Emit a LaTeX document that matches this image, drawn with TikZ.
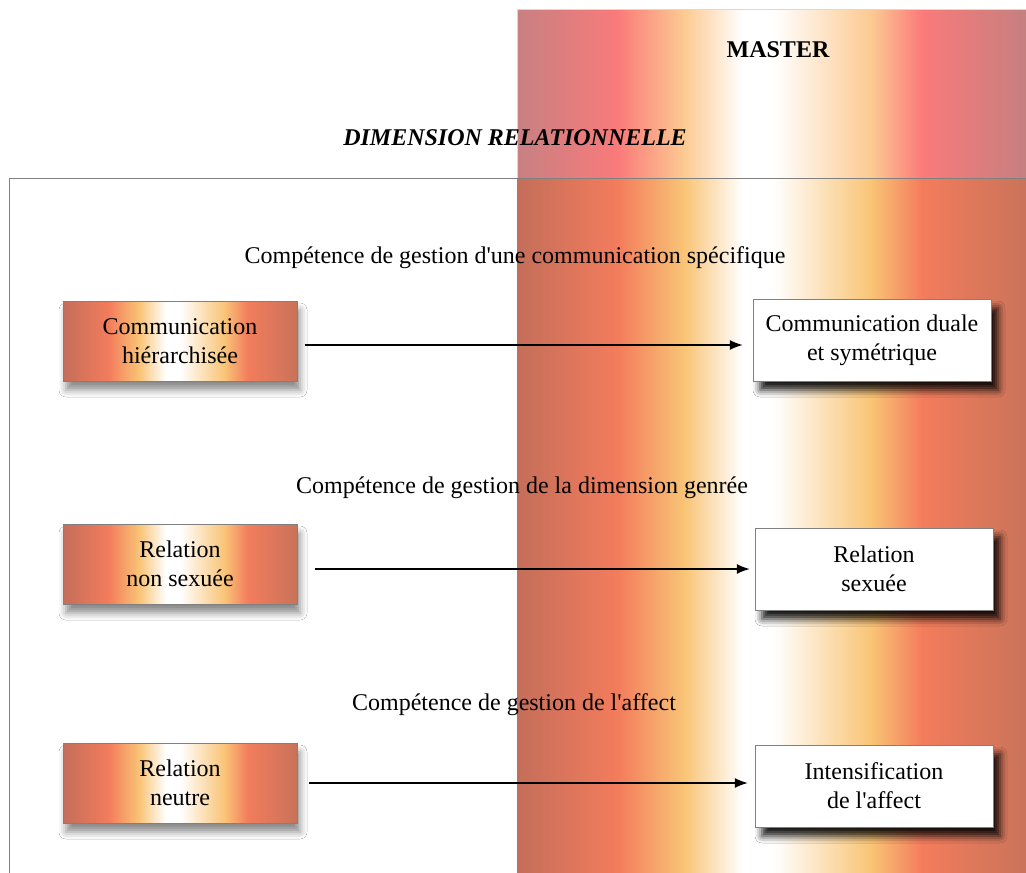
\documentclass[tikz,border=0pt]{standalone}
\usepackage{fontspec}
\setmainfont{Liberation Serif}
\usetikzlibrary{arrows.meta,shadows.blur}
\tikzset{>={Latex[length=13pt,width=10pt]}}

\definecolor{emberL}{RGB}{196,110,90}
\definecolor{emberR}{RGB}{200,115,90}
\definecolor{flame}{RGB}{243,124,92}
\definecolor{gold}{RGB}{249,196,118}
\definecolor{roseL}{RGB}{200,128,130}
\definecolor{roseR}{RGB}{196,128,128}
\definecolor{pink}{RGB}{250,122,122}
\definecolor{peach}{RGB}{252,202,146}

% band colours, mapped on the inner 50bp
\pgfdeclarehorizontalshading{fireband}{100bp}{color(0bp)=(emberL); color(25bp)=(emberL);
  color(34.8bp)=(flame); color(41.3bp)=(gold); color(47bp)=(white); color(50bp)=(white);
  color(59.5bp)=(gold); color(64.5bp)=(flame); color(75bp)=(emberR); color(100bp)=(emberR)}
\pgfdeclarehorizontalshading{roseband}{100bp}{color(0bp)=(roseL); color(25bp)=(roseL);
  color(34.8bp)=(pink); color(41.3bp)=(peach); color(47bp)=(white); color(50bp)=(white);
  color(59.5bp)=(peach); color(64.5bp)=(pink); color(75bp)=(roseR); color(100bp)=(roseR)}

\newcommand\boxfont{\fontsize{24}{29}\selectfont}

\tikzset{
  before/.style={draw=gray, shading=fireband, minimum width=234pt, minimum height=80pt,
    align=center, font=\boxfont,
    blur shadow={shadow xshift=3pt, shadow yshift=-9pt, shadow opacity=45, shadow blur radius=7pt}},
  after/.style={draw=gray, fill=white, minimum width=238pt, minimum height=82pt,
    align=center, font=\boxfont,
    blur shadow={shadow xshift=7pt, shadow yshift=-9pt, shadow opacity=90, shadow blur radius=7pt}},
  skill/.style={font=\boxfont},
  flow/.style={->, line width=1.5pt}
}

\begin{document}
\begin{tikzpicture}[x=1pt,y=-1pt]

	\useasboundingbox (0,0) rectangle (1026,873);
	\clip (0,0) rectangle (1026,873);
	\fill[white] (0,0) rectangle (1026,873);

	% master band
	\shade[shading=roseband, draw=gray!30] (517,9) rectangle (1030,178);
	\shade[shading=fireband] (517,178) rectangle (1030,880);
	\draw[gray] (9,880) -- (9,178) -- (1030,178);

	\node[skill, font=\boxfont\bfseries] (master) at (778,50) {MASTER};
	\node[skill, font=\boxfont\bfseries\itshape] (dimension) at (515,138) {DIMENSION RELATIONNELLE};

	\node[skill] (skill1) at (515,258) {Compétence de gestion d\textquotesingle une communication spécifique};
	\node[skill] (skill2) at (522,488) {Compétence de gestion de la dimension genrée};
	\node[skill] (skill3) at (514,705) {Compétence de gestion de l\textquotesingle affect};

	\node[before] (from1) at (180,341) {Communication\\hiérarchisée};
	\node[before] (from2) at (180,564) {Relation\\non sexuée};
	\node[before] (from3) at (180,783) {Relation\\neutre};

	\node[after] (to1) at (872,340) {Communication duale\\et symétrique};
	\node[after] (to2) at (874,569) {Relation\\sexuée};
	\node[after] (to3) at (874,786) {Intensification\\de l\textquotesingle affect};

	\draw[flow, shorten <=8pt, shorten >=10pt] (from1.east) ++(0,4) -- (to1.west |- 0,345);
	\draw[flow, shorten <=18pt, shorten >=5pt] (from2.east) ++(0,5) -- (to2.west);
	\draw[flow, shorten <=12pt, shorten >=7pt] (from3.east) -- (to3.west |- from3.east);

\end{tikzpicture}
\end{document}
